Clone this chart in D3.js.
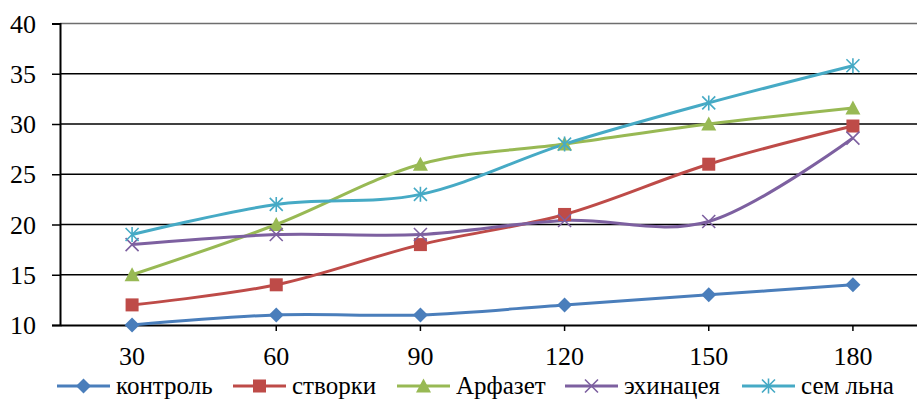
<!DOCTYPE html>
<html>
<head>
<meta charset="utf-8">
<script src="https://cdn.jsdelivr.net/npm/d3@7"></script>
<style>
  @font-face {
    font-family: "ChartSerif";
    src: local("Liberation Serif"), local("LiberationSerif"), local("LiberationSerif-Regular"), local("Times New Roman");
  }
</style>
</head>
<body style="margin:0">
<svg id="s" width="917" height="399"></svg>
<script>
// Days of observation
const categories = [30, 60, 90, 120, 150, 180];

// Series values
const kontrol   = [10, 11, 11, 12, 13, 14];
const stvorki   = [12, 14, 18, 21, 26, 29.8];
const arfazet   = [15, 20, 26, 28, 30, 31.6];
const ehinaceya = [18, 19, 19, 20.4, 20.3, 28.6];
const semLna    = [19, 22, 23, 28, 32.1, 35.8];

const yTicks = [10, 15, 20, 25, 30, 35, 40];

const series = [
  { name: "контроль", values: kontrol,   color: "#4A7EBB", marker: "diamond" },
  { name: "створки",  values: stvorki,   color: "#BE4B48", marker: "square" },
  { name: "Арфазет",  values: arfazet,   color: "#98B954", marker: "triangle" },
  { name: "эхинацея", values: ehinaceya, color: "#7D60A0", marker: "cross" },
  { name: "сем льна", values: semLna,    color: "#46AAC5", marker: "star" }
];

// Left edge of each legend entry
const legendX = [57, 233, 397, 565, 742];

const SERIF = "\"Liberation Serif\"";

const svg = d3.select("#s");

const x = d3.scaleBand().domain(categories).range([60, 925]);
const y = d3.scaleLinear().domain([10, 40]).range([325, 23.5]);
const cx = c => x(c) + x.bandwidth() / 2;

// Horizontal gridlines
svg.append("g")
  .selectAll("line")
  .data(yTicks.filter(t => t !== 10))
  .join("line")
  .attr("x1", 60).attr("x2", 917)
  .attr("y1", d => y(d)).attr("y2", d => y(d))
  .attr("stroke", d => d === 40 ? "#6e6e6e" : "#000")
  .attr("stroke-width", 1.3);

// Axis lines and ticks from d3 axes; their labels are drawn separately below
function styleAxis(g) {
  g.select(".domain").attr("stroke", "#000").attr("stroke-width", 2);
  g.selectAll(".tick line").attr("stroke", "#000").attr("stroke-width", 1.5);
  g.selectAll(".tick text").remove();
}

svg.append("g")
  .attr("transform", "translate(60,0)")
  .call(d3.axisLeft(y).tickValues(yTicks).tickSize(8))
  .call(styleAxis);

svg.append("g")
  .attr("transform", `translate(0,${y(10)})`)
  .call(d3.axisBottom(x).tickSize(6).tickSizeOuter(0))
  .call(styleAxis);

// Y tick labels
svg.selectAll("text.ylab")
  .data(yTicks)
  .join("text")
  .attr("class", "ylab")
  .attr("x", 36)
  .attr("y", d => y(d) + 9)
  .attr("text-anchor", "end")
  .style("font-family", SERIF)
  .style("font-size", "26px")
  .text(d => d);

// X tick labels
svg.selectAll("text.xlab")
  .data(categories)
  .join("text")
  .attr("class", "xlab")
  .attr("x", d => cx(d))
  .attr("y", 365)
  .attr("text-anchor", "middle")
  .style("font-family", SERIF)
  .style("font-size", "26px")
  .text(d => d);

// Marker shapes
function drawMarker(g, type, color, px, py, s) {
  const r = s / 2;
  if (type === "diamond") {
    g.append("path")
      .attr("d", `M${px},${py - r - 1}L${px + r + 1},${py}L${px},${py + r + 1}L${px - r - 1},${py}Z`)
      .attr("fill", color);
  } else if (type === "square") {
    g.append("rect")
      .attr("x", px - r).attr("y", py - r)
      .attr("width", s).attr("height", s)
      .attr("fill", color);
  } else if (type === "triangle") {
    g.append("path")
      .attr("d", `M${px},${py - r - 1}L${px + r + 1},${py + r}L${px - r - 1},${py + r}Z`)
      .attr("fill", color);
  } else if (type === "cross") {
    g.append("path")
      .attr("d", `M${px - r},${py - r}L${px + r},${py + r}M${px - r},${py + r}L${px + r},${py - r}`)
      .attr("stroke", color).attr("stroke-width", 1.6).attr("fill", "none");
  } else if (type === "star") {
    g.append("path")
      .attr("d", `M${px - r},${py - r}L${px + r},${py + r}M${px - r},${py + r}L${px + r},${py - r}M${px},${py - r - 1}L${px},${py + r + 1}`)
      .attr("stroke", color).attr("stroke-width", 1.6).attr("fill", "none");
  }
}

const line = d3.line()
  .x((d, i) => cx(categories[i]))
  .y(d => y(d))
  .curve(d3.curveCatmullRom.alpha(0));

const plot = svg.append("g");
series.forEach(s => {
  plot.append("path")
    .datum(s.values)
    .attr("d", line)
    .attr("fill", "none")
    .attr("stroke", s.color)
    .attr("stroke-width", 3);
});
series.forEach(s => {
  const g = plot.append("g");
  s.values.forEach((v, i) => drawMarker(g, s.marker, s.color, cx(categories[i]), y(v), 13));
});

// Legend keys
const ly = 386;
const legend = svg.append("g");
series.forEach((s, i) => {
  const lx = legendX[i];
  legend.append("line")
    .attr("x1", lx).attr("x2", lx + 53)
    .attr("y1", ly).attr("y2", ly)
    .attr("stroke", s.color).attr("stroke-width", 3);
  drawMarker(legend, s.marker, s.color, lx + 26.5, ly, 13);
});

// Legend labels
svg.selectAll("text.leg")
  .data(series)
  .join("text")
  .attr("class", "leg")
  .attr("x", (d, i) => legendX[i] + 59)
  .attr("y", 394)
  .style("font-family", SERIF)
  .style("font-size", "25px")
  .text(d => d.name);
</script>
</body>
</html>
